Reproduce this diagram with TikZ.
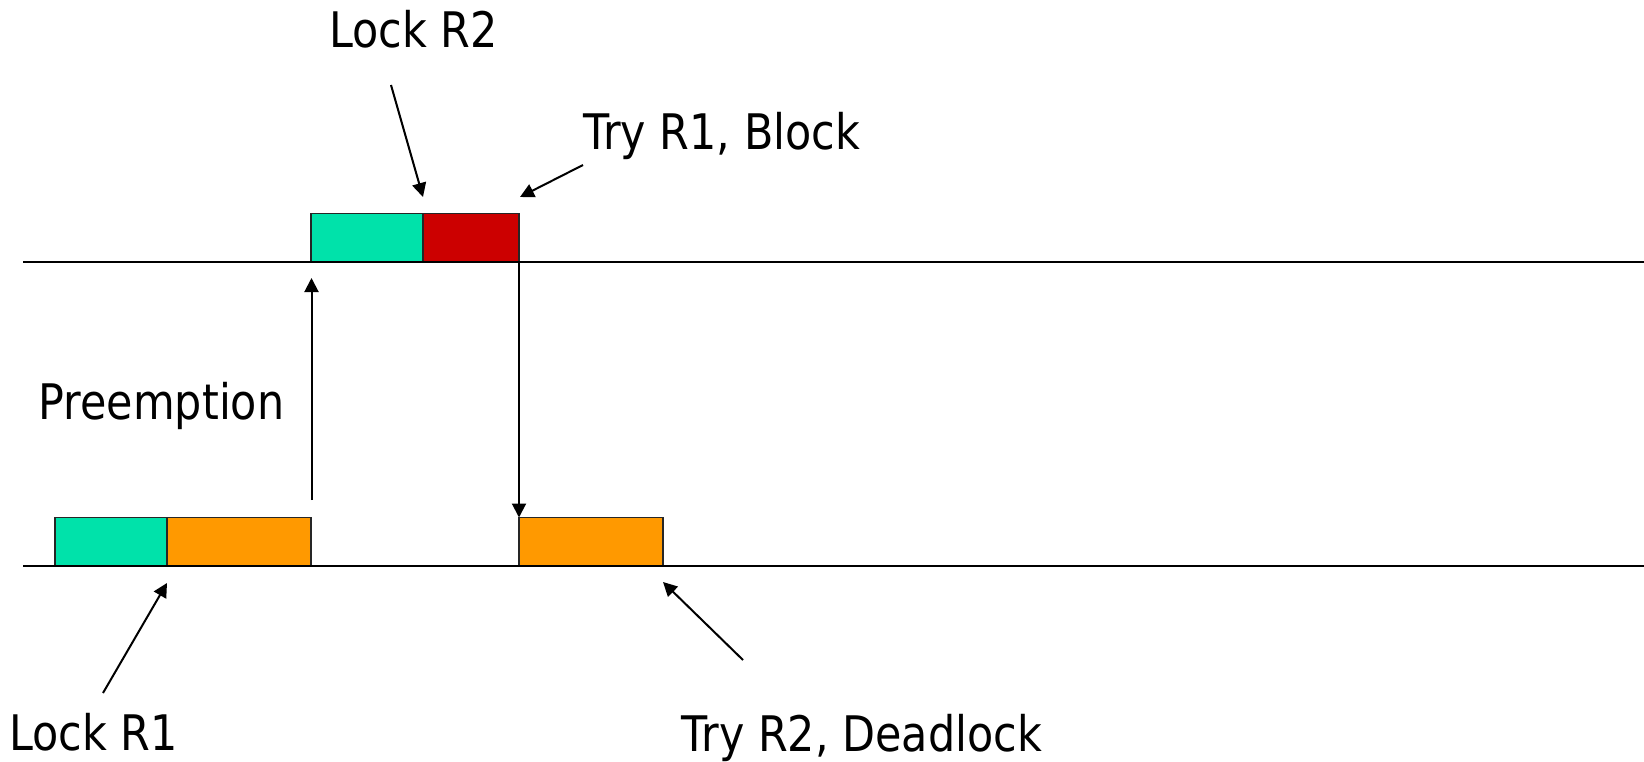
\documentclass[tikz,border=0pt]{standalone}
\usepackage{fontspec}
\setmainfont[FakeStretch=0.875]{DejaVu Sans}
\usetikzlibrary{arrows.meta}
\definecolor{lockgreen}{RGB}{0,226,170}
\definecolor{blockred}{RGB}{204,0,0}
\definecolor{runorange}{RGB}{255,153,0}
\begin{document}
\begin{tikzpicture}[x=1pt,y=-1pt,
  seg/.style={draw=black!85,line width=1.5pt,inner sep=0pt,outer sep=0pt,anchor=north west,minimum height=48.5pt},
  timeline/.style={line width=2.5pt},
  arr/.style={line width=2pt,-{Triangle[length=14pt,width=14pt]}},
  lbl/.style={font=\fontsize{49}{58}\selectfont,anchor=base west,inner sep=0pt}]
\useasboundingbox (0,0) rectangle (1644,761);
% boxes
\node[seg,fill=lockgreen,minimum width=112pt] (g2) at (311,213.5) {};
\node[seg,fill=blockred,minimum width=96pt] (r2) at (423,213.5) {};
\node[seg,fill=lockgreen,minimum width=112pt] (g1) at (55,517.5) {};
\node[seg,fill=runorange,minimum width=144pt] (o1) at (167,517.5) {};
\node[seg,fill=runorange,minimum width=144pt] (o2) at (519,517.5) {};
% timelines
\coordinate (t2a) at (23,262);
\coordinate (t2b) at (1644,262);
\coordinate (t1a) at (23,566);
\coordinate (t1b) at (1644,566);
\draw[timeline] (t2a) -- (t2b);
\draw[timeline] (t1a) -- (t1b);
% labels
\node[lbl] (lr2) at (329,47.3) {Lock R2};
\node[lbl] (tr1) at (583,149) {Try R1, Block};
\node[lbl] (pre) at (38.5,419.3) {Preemption};
\node[lbl] (lr1) at (9,750) {Lock R1};
\node[lbl] (tr2) at (681.5,751.7) {Try R2, Deadlock};
% arrow coordinates
\coordinate (preTail) at (311.5,500);
\coordinate (preTip) at (311.5,278);
\coordinate (lr2Tail) at (391,85);
\coordinate (lr2Tip) at (423,197);
\coordinate (tr1Tail) at (583,165);
\coordinate (tr1Tip) at (520,197);
\coordinate (lr1Tail) at (103,693);
\coordinate (lr1Tip) at (167,583);
\coordinate (tr2Tail) at (743,660);
\coordinate (tr2Tip) at (663,582);
% arrows
\draw[arr] (preTail) -- (preTip);
\draw[arr] (r2.south east) -- (o2.north west);
\draw[arr] (lr2Tail) -- (lr2Tip);
\draw[arr] (tr1Tail) -- (tr1Tip);
\draw[arr] (lr1Tail) -- (lr1Tip);
\draw[arr] (tr2Tail) -- (tr2Tip);
\end{tikzpicture}
\end{document}
